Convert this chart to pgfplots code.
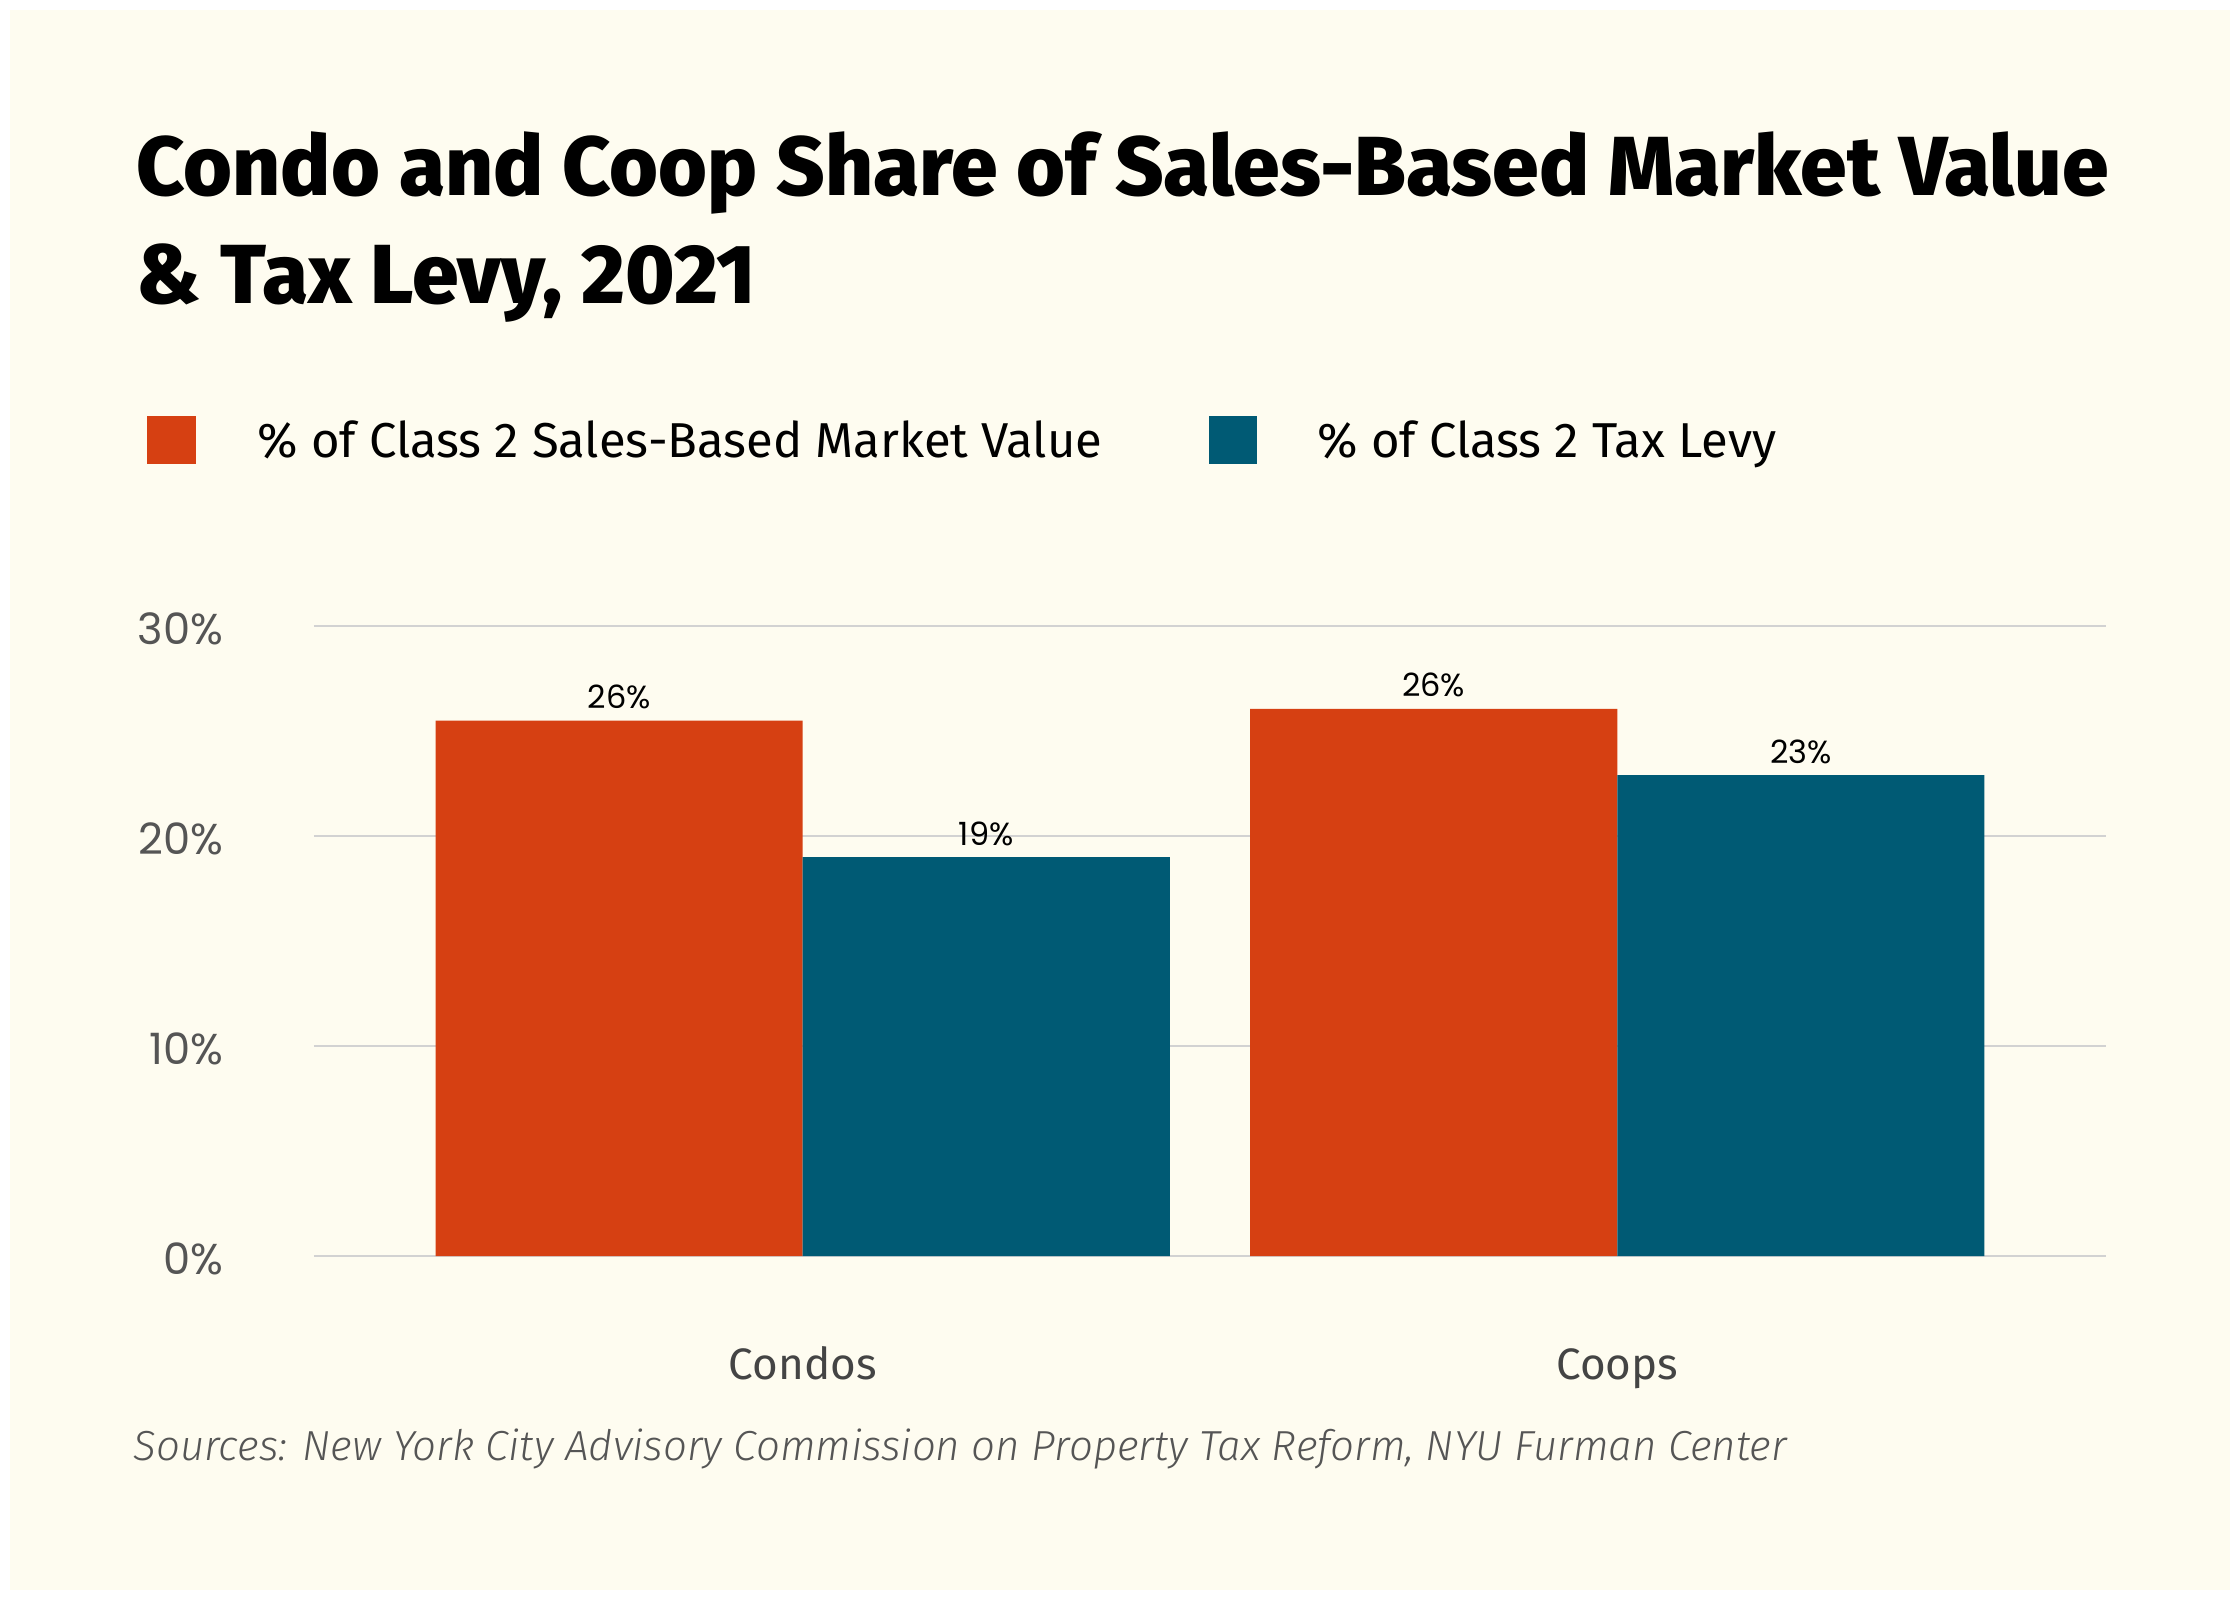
\documentclass[border=0pt]{standalone}
\usepackage{pgfplots}
\pgfplotsset{compat=1.18}
\usepackage{fontspec}
\setmainfont{Fira Sans}
\newfontfamily\titlefont{Fira Sans ExtraBold}
\newfontfamily\tickfont{Poppins}
\newfontfamily\srcfont{Fira Sans Light Italic}
\definecolor{cream}{HTML}{FEFCF0}
\definecolor{barorange}{HTML}{D64012}
\definecolor{barblue}{HTML}{005A74}
\definecolor{gridgray}{HTML}{D2D2D2}
\definecolor{ticktext}{HTML}{555555}
\definecolor{cattext}{HTML}{444444}
\begin{document}
\begin{tikzpicture}[x=0.25pt,y=0.25pt]
\fill[white] (0,0) rectangle (2240,1600);
\fill[cream] (10,10) rectangle (2230,1590);
% title
\node[anchor=base west,inner sep=0pt] at (136,1404) {\titlefont\fontsize{20.95}{24}\selectfont Condo and Coop Share of Sales-Based Market Value};
\node[anchor=base west,inner sep=0pt] at (136,1296) {\titlefont\fontsize{20.95}{24}\selectfont \&\ Tax Levy, 2021};
% legend
\fill[barorange] (147,1136) rectangle (196,1184);
\fill[barblue] (1209,1136) rectangle (1257,1184);
\node[anchor=base west,inner sep=0pt] at (257,1143) {\fontsize{12.25}{15}\selectfont \%\ of Class 2 Sales-Based Market Value};
\node[anchor=base west,inner sep=0pt] at (1317,1143) {\fontsize{12.25}{15}\selectfont \%\ of Class 2 Tax Levy};
% source
\node[anchor=base west,inner sep=0pt,text=ticktext] at (133,140) {\srcfont\fontsize{10.5}{13}\selectfont Sources: New York City Advisory Commission on Property Tax Reform, NYU Furman Center};
\begin{axis}[
  at={(78.5pt,86pt)}, anchor=south west,
  scale only axis, width=448pt, height=157.5pt,
  xmin=-0.6, xmax=1.6, ymin=0, ymax=30,
  axis line style={draw=none},
  tick style={draw=none},
  ytick={0,10,20,30},
  yticklabels={0\%,10\%,20\%,30\%},
  ymajorgrids,
  grid style={gridgray, line width=0.4pt},
  yticklabel style={font=\tickfont\fontsize{10.8}{12}\selectfont, text=ticktext, anchor=east, inner sep=0pt, xshift=-22.5pt, yshift=-0.8pt},
  xtick={0,1},
  xticklabels={Condos,Coops},
  xticklabel style={font=\fontsize{11}{13}\selectfont, text=cattext, anchor=base, inner sep=0pt, yshift=-26.5pt},
  clip=false,
  ybar, bar width=91.8pt,
  nodes near coords,
  point meta=explicit symbolic,
  every node near coord/.append style={font=\tickfont\fontsize{8}{10}\selectfont, text=black, anchor=base, inner sep=0pt, yshift=3pt},
]
\addplot[fill=barorange, draw=none, bar shift=-45.9pt] coordinates {(0,25.5)[26\%] (1,26.05)[26\%]};
\addplot[fill=barblue, draw=none, bar shift=45.9pt] coordinates {(0,19.0)[19\%] (1,22.9)[23\%]};
\end{axis}
\end{tikzpicture}
\end{document}
